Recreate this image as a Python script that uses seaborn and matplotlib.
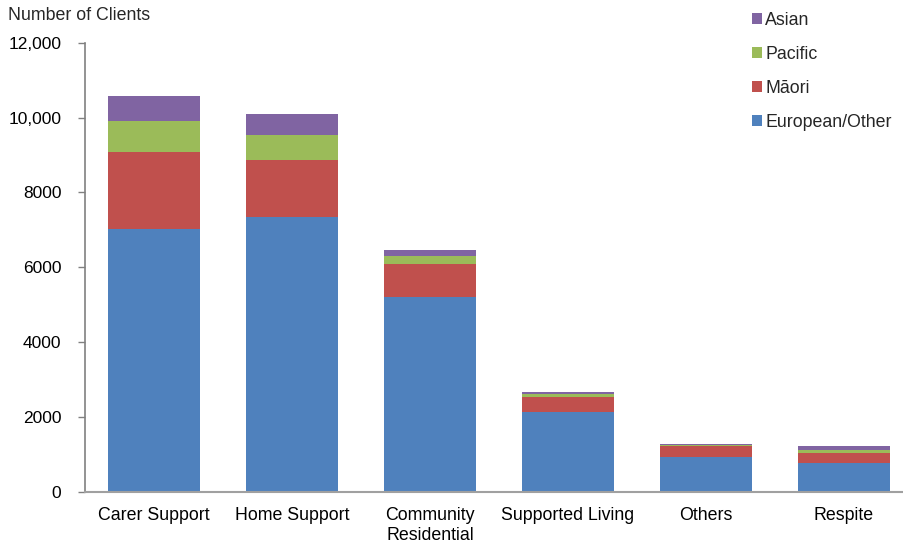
import matplotlib
matplotlib.use("Agg")
import matplotlib.pyplot as plt
import seaborn as sns
import pandas as pd
import numpy as np
from matplotlib.patches import Patch

categories = ["Carer Support", "Home Support", "Community\nResidential",
              "Supported Living", "Others", "Respite"]
european = [7010, 7330, 5195, 2134, 930, 770]
maori = [2070, 1525, 880, 400, 287, 251]
pacific = [820, 670, 230, 70, 20, 89]
asian = [675, 560, 145, 45, 25, 107]

series_names = ["European/Other", "Māori", "Pacific", "Asian"]
colors = ["#4F81BD", "#C0504D", "#9BBB59", "#8064A2"]
y_ticks = [0, 2000, 4000, 6000, 8000, 10000, 12000]
y_tick_labels = ["0", "2000", "4000", "6000", "8000", "10,000", "12,000"]

sns.set_theme(style="white")
plt.rcParams["font.family"] = ["Liberation Sans", "DejaVu Sans"]
FS = 12.8

fig = plt.figure(figsize=(9.04, 5.46), dpi=100)
W, H = 904, 546
x0, x1 = 85, 904
yb, yt = 491.5, 42.7
ax = fig.add_axes([x0 / W, (H - yb) / H, (x1 - x0) / W, (yb - yt) / H])

df = pd.DataFrame({"category": categories, "European/Other": european,
                   "Māori": maori, "Pacific": pacific, "Asian": asian})
cum = df[series_names].cumsum(axis=1)

for name, col in reversed(list(zip(series_names, colors))):
    sns.barplot(x=df["category"], y=cum[name], color=col, ax=ax,
                width=0.667, saturation=1, edgecolor="none", linewidth=0,
                order=categories)

slot = 138.0
ax.set_xlim(-0.5, (x1 - x0) / slot - 0.5)
ax.set_ylim(0, 12000)
ax.set_yticks(y_ticks)
ax.set_yticklabels(y_tick_labels, fontsize=12.5, color="#000000")
ax.tick_params(axis="y", direction="out", length=5, width=1, color="#808080",
               left=True, pad=12)
ax.tick_params(axis="x", length=0, labelsize=FS, pad=11, labelcolor="#000000")
for lbl in ax.get_xticklabels():
    lbl.set_linespacing(1.25)
ax.set_xlabel("")
ax.set_ylabel("")
for s in ["top", "right"]:
    ax.spines[s].set_visible(False)
ax.spines["left"].set_color("#808080")
ax.spines["bottom"].set_color("#A0A0A0")
ax.spines["left"].set_linewidth(1.2)
ax.spines["bottom"].set_linewidth(1.5)
ax.grid(False)

fig.text(8 / W, 1 - 15 / H, "Number of Clients", fontsize=FS, va="center", ha="left")

handles = [Patch(facecolor=c, edgecolor="none", label=n)
           for n, c in zip(series_names, colors)][::-1]
leg = fig.legend(handles=handles, loc="upper left",
                 bbox_to_anchor=(745 / W, 1 - 5 / H), frameon=False,
                 fontsize=FS, handlelength=0.55, handleheight=0.55,
                 handletextpad=0.2, labelspacing=0.95, borderaxespad=0)

fig.savefig("out.png", dpi=100, facecolor="white")
